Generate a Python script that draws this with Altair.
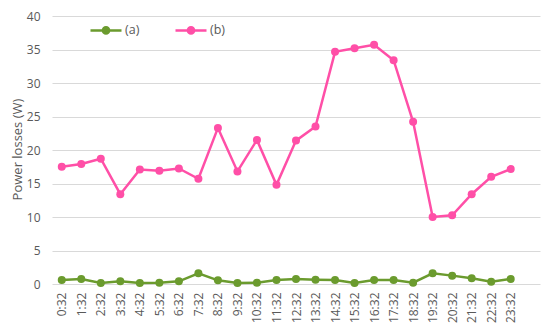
import altair as alt
import pandas as pd

times = ["0:32", "1:32", "2:32", "3:32", "4:32", "5:32", "6:32", "7:32", "8:32", "9:32",
         "10:32", "11:32", "12:32", "13:32", "14:32", "15:32", "16:32", "17:32", "18:32",
         "19:32", "20:32", "21:32", "22:32", "23:32"]
series_a = [0.6, 0.75, 0.15, 0.4, 0.15, 0.2, 0.4, 1.6, 0.55, 0.15, 0.2, 0.6,
            0.75, 0.65, 0.6, 0.15, 0.6, 0.6, 0.2, 1.6, 1.25, 0.85, 0.35, 0.75]
series_b = [17.5, 17.9, 18.7, 13.4, 17.1, 16.9, 17.25, 15.7, 23.3, 16.8, 21.5, 14.8,
            21.4, 23.5, 34.65, 35.2, 35.7, 33.4, 24.2, 10.0, 10.25, 13.4, 16.0, 17.15]
names = ["(a)", "(b)"]
colors = ["#6b9b2e", "#ff4fa7"]

rows = []
for i, t in enumerate(times):
    rows.append({"idx": i, "time": t, "series": names[0], "value": series_a[i]})
    rows.append({"idx": i, "time": t, "series": names[1], "value": series_b[i]})
df = pd.DataFrame(rows)

label_expr = "[" + ",".join("'" + t + "'" for t in times) + "][datum.value]"
sym = "M-1,0L1,0M-0.2,0A0.2,0.2 0 1 1 0.2,0A0.2,0.2 0 1 1 -0.2,0Z"

font = "Open Sans"
grey = "#595959"

chart = alt.Chart(df).mark_line(
    strokeWidth=2.5,
    point=alt.OverlayMarkDef(filled=True, size=64, opacity=1),
).encode(
    x=alt.X("idx:Q", scale=alt.Scale(domain=[-0.5, 24.5], nice=False, zero=False),
            axis=alt.Axis(values=list(range(len(times))), labelExpr=label_expr,
                          labelAngle=270, labelAlign="right", labelBaseline="middle",
                          grid=False, ticks=False, domain=False, title=None,
                          labelPadding=8, labelFontSize=12, labelColor=grey,
                          labelFont=font)),
    y=alt.Y("value:Q", scale=alt.Scale(domain=[0, 40], nice=False),
            axis=alt.Axis(values=[0, 5, 10, 15, 20, 25, 30, 35, 40], title="Power losses (W)",
                          titleFontSize=13, titleFontWeight="normal", titleColor=grey,
                          titleFont=font, titleX=-35, titleY=133, titleBaseline="middle",
                          titleAngle=270,
                          labelFontSize=12, labelColor=grey, labelFont=font, labelPadding=12,
                          ticks=False, domain=False, gridColor="#d9d9d9", gridWidth=1)),
    color=alt.Color("series:N", scale=alt.Scale(domain=names, range=colors),
                    legend=alt.Legend(title=None, orient="none", legendX=37, legendY=-3,
                                      direction="horizontal", symbolType=sym,
                                      symbolSize=961, symbolStrokeWidth=2.5,
                                      labelFontSize=12.5, labelColor=grey, labelFont=font,
                                      labelOffset=2, columnPadding=30)),
).properties(
    width=488, height=268,
    autosize=alt.AutoSizeParams(type="none"),
    padding={"left": 44, "top": 8, "right": 2, "bottom": 47},
).configure_view(stroke=None)

chart.save("out.html", embed_options={"renderer": "svg", "actions": False})
